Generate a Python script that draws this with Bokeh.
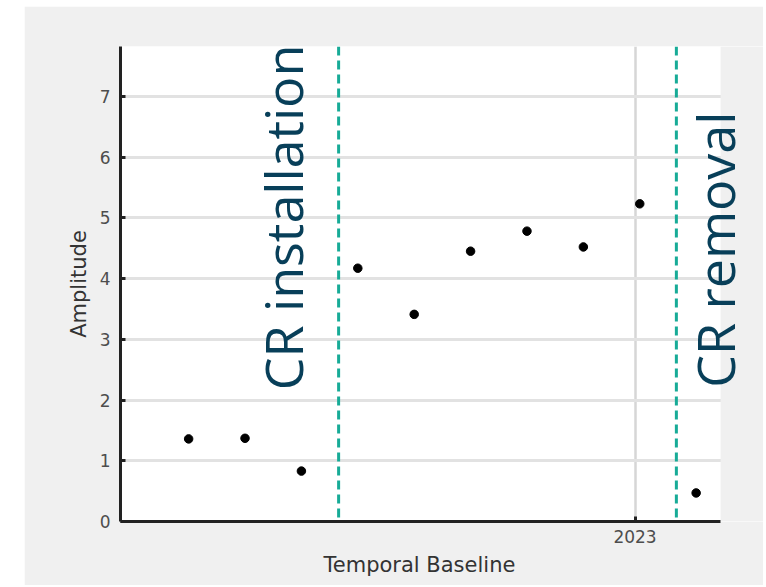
from datetime import datetime

from bokeh.embed import file_html
from bokeh.models import BoxAnnotation, ColumnDataSource, FixedTicker, Label, Span, Title
from bokeh.plotting import figure
from bokeh.resources import INLINE

# Acquisition dates (12-day revisit) and the measured amplitude at each one
dates = [
    datetime(2022, 9, 28), datetime(2022, 10, 10), datetime(2022, 10, 22),
    datetime(2022, 11, 3), datetime(2022, 11, 15), datetime(2022, 11, 27),
    datetime(2022, 12, 9), datetime(2022, 12, 21), datetime(2023, 1, 2),
    datetime(2023, 1, 14),
]
amplitude = [1.36, 1.37, 0.83, 4.17, 3.41, 4.45, 4.78, 4.52, 5.23, 0.47]

# Corner-reflector events
event_names = ["CR installation", "CR removal"]
event_dates = [datetime(2022, 10, 29, 22), datetime(2023, 1, 9, 19)]

y_ticks = [0, 1, 2, 3, 4, 5, 6, 7]
x_tick_dates = [datetime(2023, 1, 1)]
x_tick_labels = ["2023"]

# Axes window; the view runs a little past the axes so the last caption fits
axes_start = datetime(2022, 9, 13, 12)
axes_end = datetime(2023, 1, 19, 5)
view_end = datetime(2023, 1, 28, 8)

BG = "#f0f0f0"
INK = "#222222"
TEXT = "#4d4d4d"
TEAL = "#17ab97"
NAVY = "#083f59"


def ms(d):
    return (d - datetime(1970, 1, 1)).total_seconds() * 1000.0


p = figure(
    width=739, height=579,
    x_axis_type="datetime",
    x_range=(axes_start, view_end),
    y_range=(0, 7.82),
    output_backend="svg", toolbar_location=None,
    min_border_left=96, min_border_right=0,
    min_border_top=40, min_border_bottom=64,
    background_fill_color="white", border_fill_color=BG,
    outline_line_color=None,
)
p.margin = (6, 3, 2, 24)

x_ticks = [ms(d) for d in x_tick_dates]
p.xaxis.ticker = FixedTicker(ticks=x_ticks)
p.xaxis.major_label_overrides = {t: lab for t, lab in zip(x_ticks, x_tick_labels)}
p.xaxis.bounds = (ms(axes_start), ms(axes_end))
p.yaxis.ticker = FixedTicker(ticks=y_ticks)
p.xgrid.ticker = FixedTicker(ticks=x_ticks)
p.ygrid.ticker = FixedTicker(ticks=y_ticks)

p.xgrid.grid_line_color = "#d6d6d6"
p.xgrid.grid_line_width = 2.5
p.ygrid.grid_line_color = "#e2e2e2"
p.ygrid.grid_line_width = 3

# Grey margin to the right of the axes box (covers the grid there)
p.add_layout(BoxAnnotation(left=ms(axes_end), fill_color=BG, fill_alpha=1.0,
                           line_color=None, level="underlay"))

for ax in (p.xaxis, p.yaxis):
    ax.axis_line_color = INK
    ax.axis_line_width = 3
    ax.major_tick_line_color = INK
    ax.major_tick_line_width = 3
    ax.major_tick_in = 5
    ax.major_tick_out = 0
    ax.minor_tick_line_color = None
    ax.major_label_text_color = TEXT
    ax.major_label_text_font = "DejaVu Sans"
    ax.major_label_text_font_size = "17px"
    ax.axis_label_text_color = "#333333"
    ax.axis_label_text_font = "DejaVu Sans"
    ax.axis_label_text_font_size = "21px"
    ax.axis_label_text_font_style = "normal"

p.yaxis.axis_label = "Amplitude"
p.yaxis.major_label_standoff = 10
p.xaxis.major_label_standoff = 8
p.yaxis.axis_label_standoff = 6

# x-axis title, centred under the axes box rather than the wider view
p.add_layout(Title(text="Temporal Baseline", align="left", offset=203,
                   text_font="DejaVu Sans", text_font_size="21px",
                   text_font_style="normal", text_color="#333333",
                   standoff=10), "below")

# Event markers: dashed verticals with rotated captions
for d in event_dates:
    p.add_layout(Span(location=ms(d), dimension="height", line_color=TEAL,
                      line_width=3, line_dash="9 5"))

p.add_layout(Label(x=event_dates[0], y=2.16, x_offset=-56, text=event_names[0],
                   angle=90, angle_units="deg", text_align="left",
                   text_baseline="alphabetic", text_color=NAVY,
                   text_font="Open Sans", text_font_size="52px"))
p.add_layout(Label(x=event_dates[1], y=2.2, x_offset=38, text=event_names[1],
                   angle=90, angle_units="deg", text_align="left",
                   text_baseline="alphabetic", text_color=NAVY,
                   text_font="Open Sans", text_font_size="52px"))

src = ColumnDataSource(data=dict(date=dates, amp=amplitude))
p.scatter("date", "amp", source=src, size=8.5, marker="circle",
          color="black", line_color="black")

open("out.html", "w").write(file_html(p, INLINE))
